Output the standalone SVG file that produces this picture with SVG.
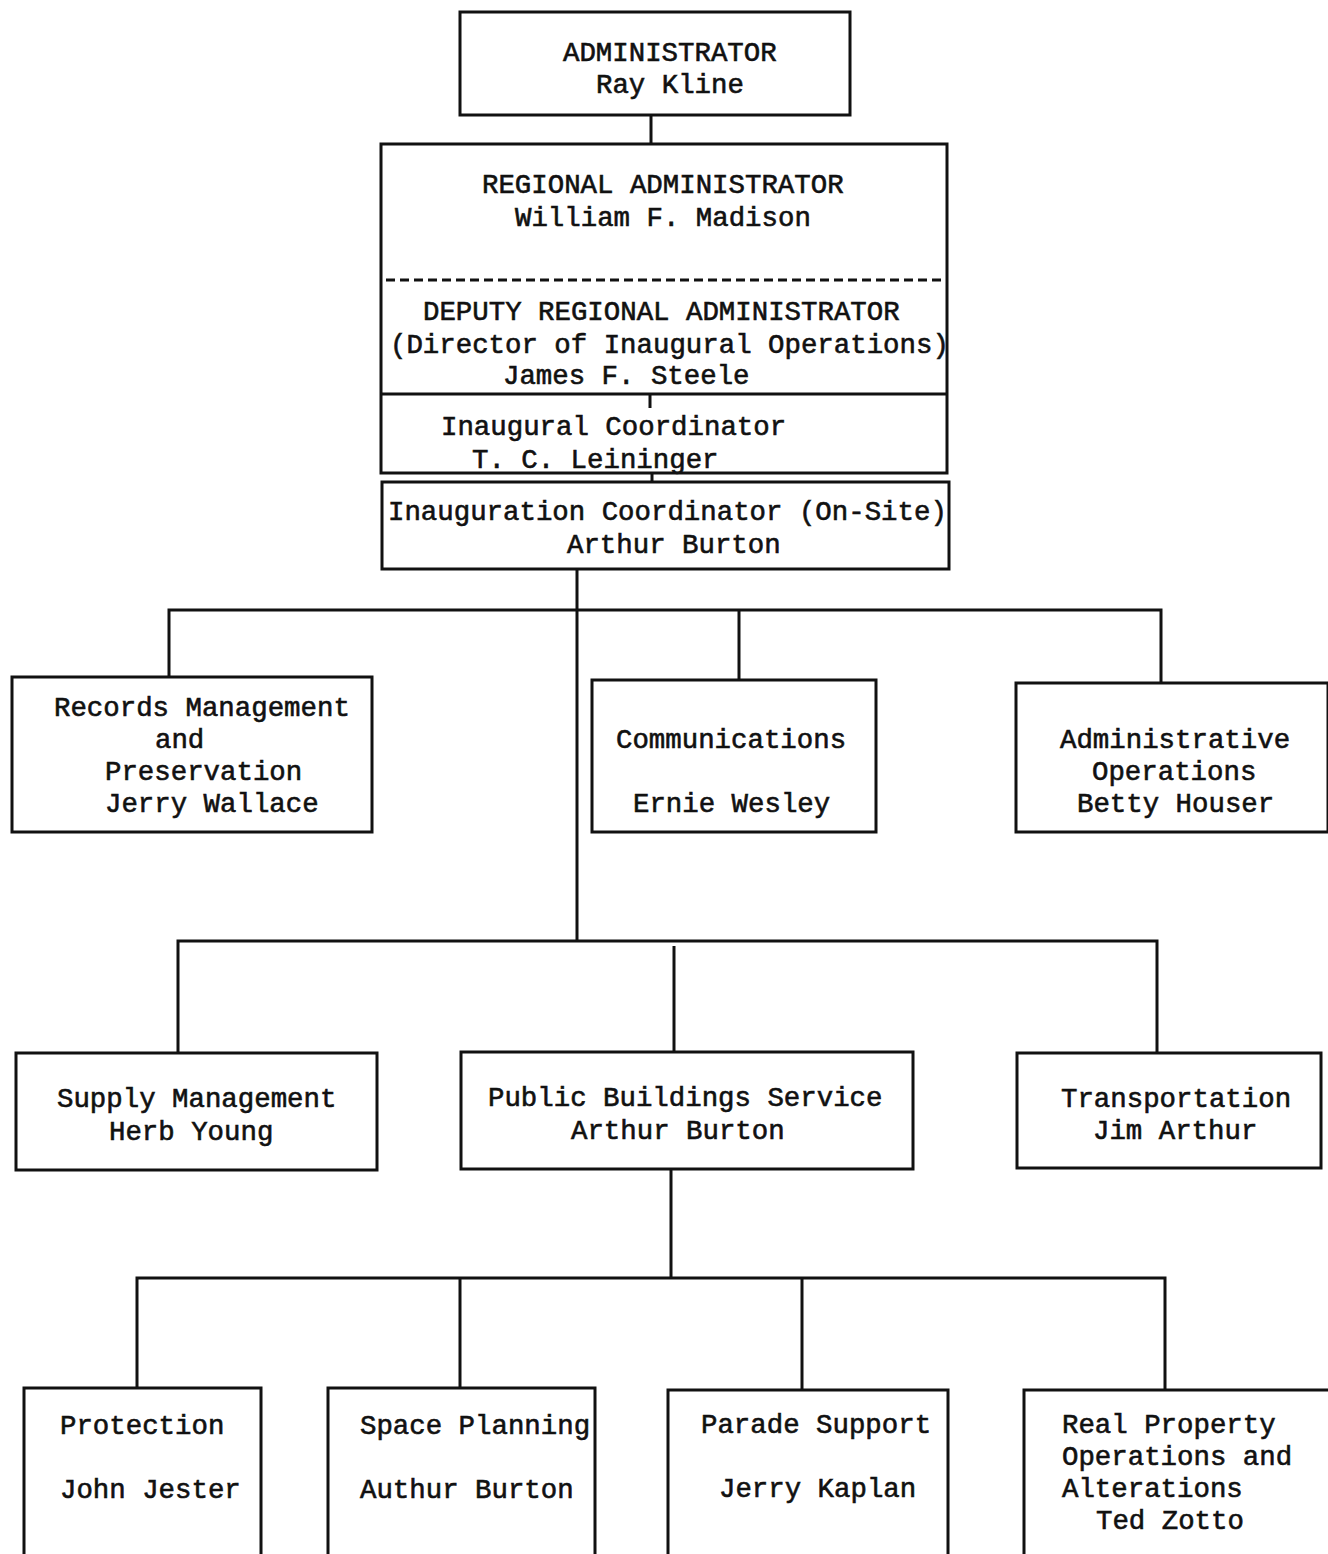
<svg xmlns="http://www.w3.org/2000/svg" width="1328" height="1554" viewBox="0 0 1328 1554">
<style>
.bx{fill:none;stroke:#111;stroke-width:3}
.ln{fill:none;stroke:#111;stroke-width:3}
text{font-family:"Liberation Mono","DejaVu Sans Mono",monospace;font-size:27.4px;fill:#111;stroke:#111;stroke-width:0.6}
</style>
<rect x="0" y="0" width="1328" height="1554" fill="#fff"/>
<g id="connectors">
<path class="ln" d="M651 115V144"/>
<path class="ln" d="M652 473V483"/>
<path class="ln" d="M650 395V408"/>
<path class="ln" d="M577 569V941"/>
<path class="ln" d="M169 677V610H1161V684"/>
<path class="ln" d="M739 610V680"/>
<path class="ln" d="M178 1053V941H1157V1053"/>
<path class="ln" d="M674 946V1051"/>
<path class="ln" d="M671 1169V1278"/>
<path class="ln" d="M137 1388V1278H1165V1390"/>
<path class="ln" d="M460 1278V1388"/>
<path class="ln" d="M802 1278V1390"/>
</g>
<g id="administrator">
<rect class="bx" x="460" y="12" width="390" height="103"/>
<text x="563" y="61">ADMINISTRATOR</text>
<text x="596" y="93">Ray Kline</text>
</g>
<g id="regional">
<rect class="bx" x="381" y="144" width="566" height="329"/>
<text x="482" y="193">REGIONAL ADMINISTRATOR</text>
<text x="515" y="226">William F. Madison</text>
<path class="ln" d="M386 280H942" stroke-dasharray="9 5"/>
<text x="423" y="320">DEPUTY REGIONAL ADMINISTRATOR</text>
<text x="390" y="353">(Director of Inaugural Operations)</text>
<text x="503" y="384">James F. Steele</text>
<path class="ln" d="M381 394H947"/>
<text x="441" y="435">Inaugural Coordinator</text>
<text x="472" y="468">T. C. Leininger</text>
</g>
<g id="onsite">
<rect class="bx" x="382" y="482" width="567" height="87"/>
<text x="388" y="520">Inauguration Coordinator (On-Site)</text>
<text x="567" y="553">Arthur Burton</text>
</g>
<g id="records">
<rect class="bx" x="12" y="677" width="360" height="155"/>
<text x="54" y="716">Records Management</text>
<text x="155" y="748">and</text>
<text x="105" y="780">Preservation</text>
<text x="105" y="812">Jerry Wallace</text>
</g>
<g id="communications">
<rect class="bx" x="592" y="680" width="284" height="152"/>
<text x="616" y="748">Communications</text>
<text x="633" y="812">Ernie Wesley</text>
</g>
<g id="adminops">
<rect class="bx" x="1016" y="683" width="312" height="149"/>
<text x="1060" y="748">Administrative</text>
<text x="1092" y="780">Operations</text>
<text x="1077" y="812">Betty Houser</text>
</g>
<g id="supply">
<rect class="bx" x="16" y="1053" width="361" height="117"/>
<text x="57" y="1107">Supply Management</text>
<text x="109" y="1140">Herb Young</text>
</g>
<g id="pbs">
<rect class="bx" x="461" y="1052" width="452" height="117"/>
<text x="488" y="1106">Public Buildings Service</text>
<text x="571" y="1139">Arthur Burton</text>
</g>
<g id="transportation">
<rect class="bx" x="1017" y="1053" width="304" height="115"/>
<text x="1061" y="1107">Transportation</text>
<text x="1093" y="1139">Jim Arthur</text>
</g>
<g id="protection">
<rect class="bx" x="24" y="1388" width="237" height="170"/>
<text x="60" y="1434">Protection</text>
<text x="60" y="1498">John Jester</text>
</g>
<g id="space">
<rect class="bx" x="328" y="1388" width="267" height="170"/>
<text x="360" y="1434">Space Planning</text>
<text x="360" y="1498">Authur Burton</text>
</g>
<g id="parade">
<rect class="bx" x="668" y="1390" width="280" height="168"/>
<text x="701" y="1433">Parade Support</text>
<text x="719" y="1497">Jerry Kaplan</text>
</g>
<g id="realprop">
<rect class="bx" x="1024" y="1390" width="310" height="168"/>
<text x="1062" y="1433">Real Property</text>
<text x="1062" y="1465">Operations and</text>
<text x="1062" y="1497">Alterations</text>
<text x="1096" y="1529">Ted Zotto</text>
</g>
</svg>
